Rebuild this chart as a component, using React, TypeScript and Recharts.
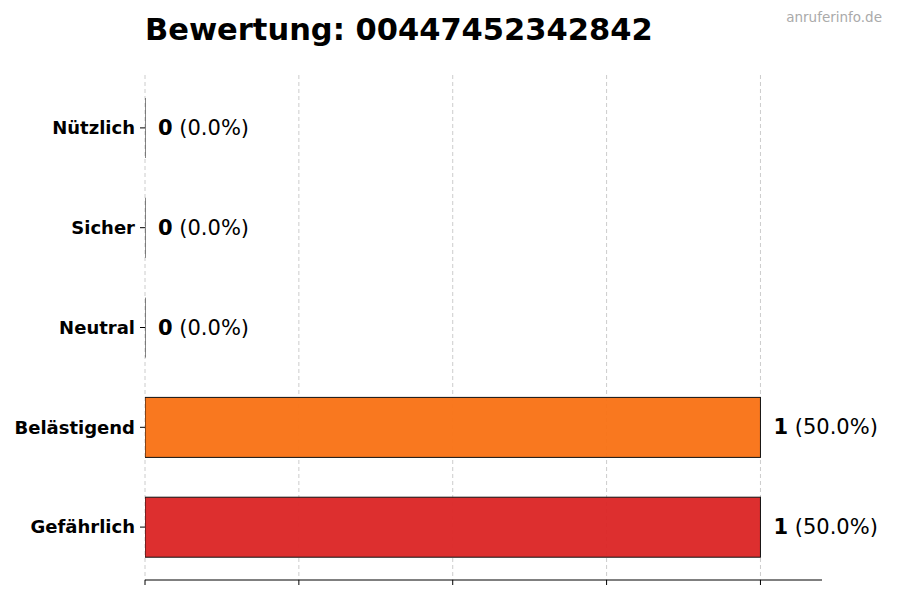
import { BarChart, Bar, XAxis, YAxis, CartesianGrid, Cell, LabelList } from 'recharts'

const CATEGORIES = ['Nützlich', 'Sicher', 'Neutral', 'Belästigend', 'Gefährlich']
const COUNTS = [0, 0, 0, 1, 1]
const PERCENTS = [0.0, 0.0, 0.0, 50.0, 50.0]
const COLORS = ['#16a34a', '#22c55e', '#9ca3af', '#f97316', '#dc2626']
const X_TICKS = [0, 0.25, 0.5, 0.75, 1]
const X_MAX = 1.1

const FONT = '"DejaVu Sans", sans-serif'

const data = CATEGORIES.map((name, i) => ({
  name,
  count: COUNTS[i],
  pct: PERCENTS[i],
}))

// zero-width bars still show their outline, like matplotlib does
const BarShape = (props: any) => {
  const { x, y, width, height, fill, payload } = props
  if (!payload || payload.count === 0) {
    return <line x1={x} x2={x} y1={y} y2={y + height} stroke="#111" strokeWidth={1} />
  }
  return (
    <rect
      x={x}
      y={y}
      width={width}
      height={height}
      fill={fill}
      fillOpacity={0.96}
      stroke="#111"
      strokeWidth={1}
    />
  )
}

const ValueLabel = (props: any) => {
  const { x, y, width, height, index } = props
  const d = data[index]
  const barW = d.count === 0 ? 0 : width
  return (
    <text
      x={x + barW + 13}
      y={y + height / 2}
      dominantBaseline="central"
      fontFamily={FONT}
      fontSize={21}
      fill="#000"
    >
      <tspan fontWeight="bold">{d.count}</tspan>
      <tspan> ({d.pct.toFixed(1)}%)</tspan>
    </text>
  )
}

const gridX = (args: any) => {
  const off = args?.offset
  if (!off) return []
  return X_TICKS.map((t) => off.left + (t / X_MAX) * off.width)
}

export default function App() {
  return (
    <div style={{ position: 'fixed', left: 0, top: 0, width: 900, height: 600, background: '#fff' }}>
      <div style={{
        position: 'absolute', left: 145, top: 10, fontFamily: FONT, fontWeight: 'bold',
        fontSize: 30.5, color: '#000', whiteSpace: 'nowrap', lineHeight: '40px',
      }}>
        Bewertung: 00447452342842
      </div>
      <div style={{
        position: 'absolute', right: 18, top: 8, fontFamily: FONT, fontSize: 13.5,
        color: '#aaaaaa', lineHeight: '18px',
      }}>
        anruferinfo.de
      </div>
      <BarChart
        width={900}
        height={600}
        data={data}
        layout="vertical"
        margin={{ top: 75, right: 78, bottom: 0, left: 0 }}
        barCategoryGap={0}
      >
        <CartesianGrid
          horizontal={false}
          stroke="#cccccc"
          strokeDasharray="4 3"
          verticalCoordinatesGenerator={gridX}
        />
        <XAxis
          type="number"
          domain={[0, X_MAX]}
          ticks={X_TICKS}
          height={20}
          stroke="#000"
          tickSize={5}
          tick={() => <g />}
          allowDataOverflow
        />
        <YAxis
          type="category"
          dataKey="name"
          width={145}
          axisLine={false}
          tickLine={{ stroke: '#000' }}
          tickSize={5}
          tickMargin={5}
          padding={{ top: 3, bottom: 3 }}
          tick={{ fontFamily: FONT, fontWeight: 'bold', fontSize: 18, fill: '#000' }}
        />
        <Bar dataKey="count" barSize={60} minPointSize={1} shape={<BarShape />} isAnimationActive={false}>
          {data.map((d, i) => (
            <Cell key={d.name} fill={COLORS[i]} />
          ))}
          <LabelList dataKey="count" content={<ValueLabel />} />
        </Bar>
      </BarChart>
    </div>
  )
}
